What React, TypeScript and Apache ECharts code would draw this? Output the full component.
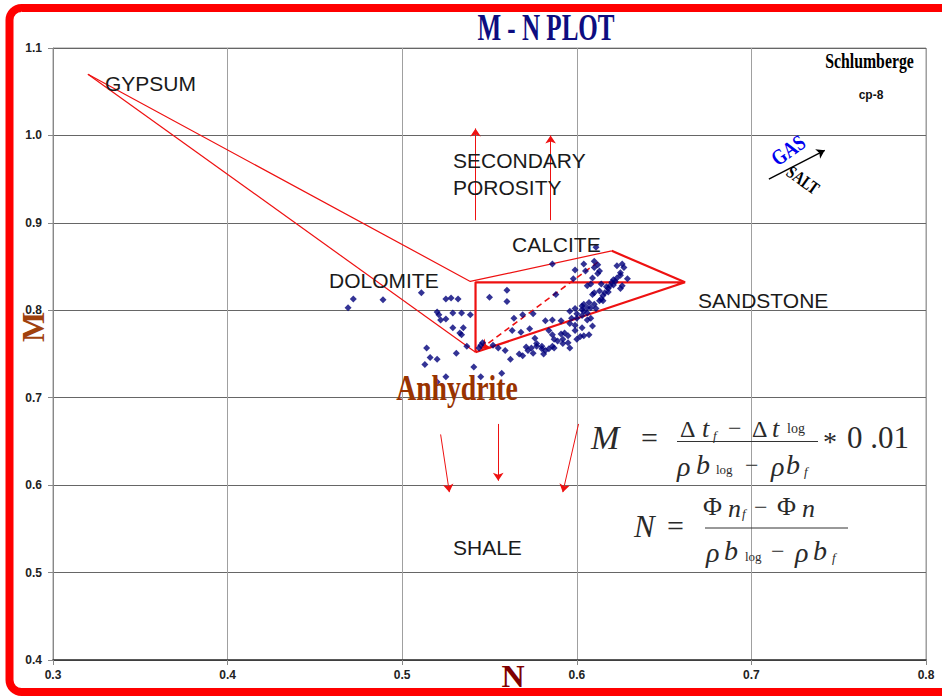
import { useEffect, useRef } from "react";
import * as echarts from "echarts";

// ---------- data ----------
const nAxisRange = [0.3, 0.8];
const mAxisRange = [0.4, 1.1];

const samplePoints: [number, number][] = [
  [0.469, 0.803], [0.472, 0.813], [0.489, 0.812], [0.511, 0.82], [0.52, 0.798],
  [0.521, 0.795], [0.522, 0.789], [0.525, 0.79], [0.525, 0.813], [0.528, 0.814],
  [0.532, 0.813], [0.529, 0.797], [0.534, 0.797], [0.539, 0.795], [0.529, 0.78],
  [0.533, 0.774], [0.534, 0.772], [0.535, 0.78], [0.537, 0.759], [0.531, 0.751],
  [0.514, 0.757], [0.516, 0.746], [0.52, 0.744], [0.513, 0.738], [0.541, 0.735],
  [0.525, 0.724], [0.52, 0.718], [0.545, 0.724], [0.557, 0.728], [0.55, 0.815],
  [0.56, 0.823], [0.56, 0.81], [0.544, 0.757], [0.545, 0.76], [0.546, 0.763],
  [0.552, 0.76], [0.555, 0.757], [0.559, 0.754], [0.562, 0.744], [0.567, 0.75],
  [0.569, 0.748], [0.571, 0.758], [0.572, 0.754], [0.574, 0.757], [0.575, 0.751],
  [0.577, 0.759], [0.563, 0.777], [0.568, 0.775], [0.573, 0.779], [0.564, 0.791],
  [0.569, 0.795], [0.575, 0.796], [0.576, 0.768], [0.577, 0.762], [0.58, 0.759],
  [0.58, 0.756], [0.582, 0.754], [0.584, 0.756], [0.586, 0.759], [0.587, 0.757],
  [0.581, 0.75], [0.584, 0.777], [0.586, 0.772], [0.587, 0.767], [0.589, 0.765],
  [0.591, 0.773], [0.592, 0.767], [0.593, 0.774], [0.595, 0.771], [0.582, 0.788],
  [0.586, 0.789], [0.591, 0.788], [0.596, 0.785], [0.599, 0.783], [0.606, 0.789],
  [0.608, 0.791], [0.609, 0.782], [0.603, 0.78], [0.599, 0.777], [0.596, 0.757],
  [0.6, 0.767], [0.602, 0.77], [0.604, 0.771], [0.607, 0.772], [0.592, 0.762],
  [0.595, 0.763], [0.586, 0.853], [0.588, 0.818], [0.596, 0.799], [0.599, 0.802],
  [0.6, 0.796], [0.597, 0.791], [0.6, 0.791], [0.603, 0.794], [0.604, 0.799],
  [0.606, 0.803], [0.607, 0.809], [0.604, 0.807], [0.603, 0.805], [0.608, 0.803],
  [0.61, 0.807], [0.613, 0.811], [0.611, 0.872], [0.604, 0.853], [0.61, 0.856],
  [0.612, 0.852], [0.61, 0.849], [0.599, 0.846], [0.598, 0.836], [0.609, 0.837],
  [0.612, 0.842], [0.614, 0.83], [0.606, 0.828], [0.608, 0.83], [0.623, 0.851],
  [0.626, 0.853], [0.627, 0.849], [0.625, 0.843], [0.625, 0.84], [0.623, 0.837],
  [0.621, 0.835], [0.62, 0.832], [0.619, 0.828], [0.618, 0.825], [0.616, 0.82],
  [0.615, 0.817], [0.614, 0.813], [0.625, 0.825], [0.626, 0.828], [0.629, 0.836],
  [0.617, 0.827], [0.613, 0.822], [0.611, 0.802], [0.609, 0.818], [0.61, 0.82],
  [0.605, 0.845], [0.613, 0.845], [0.603, 0.801], [0.606, 0.797], [0.622, 0.833],
  [0.621, 0.829], [0.618, 0.821], [0.615, 0.811],
];

// mineral points: gypsum, dolomite, anhydrite corner, calcite, sandstone
const gypsumUpperLine: [number, number][] = [[0.32, 1.07], [0.539, 0.833], [0.62, 0.868]];
const gypsumLowerLine: [number, number][] = [[0.32, 1.07], [0.542, 0.752]];
const sandstoneTriangle: [number, number][] = [[0.542, 0.752], [0.542, 0.832], [0.662, 0.832], [0.542, 0.752]];
const calciteSandstoneLine: [number, number][] = [[0.62, 0.868], [0.662, 0.832]];

const porosityArrows: [number, number][][] = [
  [[0.542, 0.903], [0.542, 1.008]],
  [[0.585, 0.903], [0.585, 1.0]],
];
const shaleArrows: [number, number][][] = [
  [[0.522, 0.658], [0.527, 0.592]],
  [[0.555, 0.67], [0.555, 0.605]],
  [[0.601, 0.67], [0.592, 0.592]],
];
const trendArrow: [number, number][][] = [[[0.612, 0.855], [0.545, 0.756]]];
const gasSaltArrow: [number, number][][] = [[[0.71, 0.95], [0.742, 0.983]]];

// ---------- styles ----------
const RED = "#ee1111";
const SERIF = '"Liberation Serif", "Times New Roman", serif';
const SANS = '"Liberation Sans", Arial, sans-serif';

function txt(
  x: number,
  y: number,
  text: string,
  font: string,
  fill: string,
  align: string = "left",
  extra: Record<string, unknown> = {}
) {
  return {
    type: "text",
    x,
    y,
    z: 100,
    silent: true,
    ...extra,
    style: {
      text,
      font,
      fill,
      align,
      verticalAlign: "middle",
      textAlign: align,
      textVerticalAlign: "middle",
    },
  };
}

function hline(x1: number, x2: number, y: number) {
  return {
    type: "line",
    z: 100,
    silent: true,
    shape: { x1, y1: y, x2, y2: y },
    style: { stroke: "#333", lineWidth: 1 },
  };
}

export default function App() {
  const ref = useRef<HTMLDivElement>(null);

  useEffect(() => {
    document.body.style.margin = "0";
    const chart = echarts.init(ref.current!, undefined, { renderer: "svg" });

    const arrowSeries = (data: [number, number][][], color: string, width: number, type: any = "solid", size = 8) => ({
      type: "lines",
      coordinateSystem: "cartesian2d",
      polyline: false,
      silent: true,
      z: 3,
      symbol: ["none", "arrow"],
      symbolSize: size,
      lineStyle: { color, width, type, opacity: 1, curveness: 0 },
      data: data.map((c) => ({ coords: c })),
    });

    const lineSeries = (data: [number, number][], width: number) => ({
      type: "line",
      data,
      symbol: "none",
      showSymbol: false,
      silent: true,
      z: 3,
      lineStyle: { color: RED, width },
    });

    const math = "#2a2a2a";
    const graphic: any[] = [
      {
        type: "rect",
        z: 0,
        silent: true,
        shape: { x: 9.5, y: 8, width: 990, height: 684, r: 12 },
        style: { fill: "none", stroke: "#ff0000", lineWidth: 8 },
      },
      txt(546, 27, "M - N PLOT", `bold 38px ${SERIF}`, "#0d0d80", "center", { scaleX: 0.66 }),
      txt(869.5, 61.5, "Schlumberge", `bold 20px ${SERIF}`, "#000", "center", { scaleX: 0.79 }),
      txt(871, 94.5, "cp-8", `bold 12px ${SANS}`, "#111", "center"),
      txt(788, 150, "GAS", `bold 22px ${SERIF}`, "#0000ee", "center", { rotation: 0.62, scaleX: 0.8 }),
      txt(803, 180, "SALT", `bold 18px ${SERIF}`, "#000", "center", { rotation: -0.62, scaleX: 0.78 }),
      txt(105, 83, "GYPSUM", `21px ${SANS}`, "#1a1a1a"),
      txt(453, 160, "SECONDARY", `21px ${SANS}`, "#1a1a1a"),
      txt(453, 187, "POROSITY", `21px ${SANS}`, "#1a1a1a"),
      txt(512, 244, "CALCITE", `21px ${SANS}`, "#1a1a1a"),
      txt(329, 280, "DOLOMITE", `21px ${SANS}`, "#1a1a1a"),
      txt(698, 300, "SANDSTONE", `21px ${SANS}`, "#1a1a1a"),
      txt(453, 547, "SHALE", `21px ${SANS}`, "#1a1a1a"),
      txt(457, 388, "Anhydrite", `bold 36px ${SERIF}`, "#993300", "center", { scaleX: 0.77 }),
      txt(33, 327, "M", `bold 32px ${SERIF}`, "#a0410d", "center", { rotation: Math.PI / 2 }),
      txt(513, 676, "N", `bold 32px ${SERIF}`, "#7f0000", "center"),

      // formula M
      txt(591, 437, "M", `italic 34px ${SERIF}`, math),
      txt(641, 437, "=", `30px ${SERIF}`, math),
      txt(680, 429, "Δ", `24px ${SERIF}`, math),
      txt(702, 428, "t", `italic 26px ${SERIF}`, math),
      txt(713, 435, "f", `italic 13px ${SERIF}`, math),
      txt(728, 428, "−", `24px ${SERIF}`, math),
      txt(752, 429, "Δ", `24px ${SERIF}`, math),
      txt(772, 428, "t", `italic 26px ${SERIF}`, math),
      txt(787, 428, "log", `14px ${SERIF}`, math),
      hline(677, 818, 441.5),
      txt(677, 466, "ρ", `italic 28px ${SERIF}`, math),
      txt(696, 464, "b", `italic 28px ${SERIF}`, math),
      txt(716, 469, "log", `13px ${SERIF}`, math),
      txt(745, 465, "−", `24px ${SERIF}`, math),
      txt(771, 466, "ρ", `italic 28px ${SERIF}`, math),
      txt(786, 464, "b", `italic 28px ${SERIF}`, math),
      txt(804, 471, "f", `italic 13px ${SERIF}`, math),
      txt(823, 441, "*", `28px ${SERIF}`, math),
      txt(847, 437, "0 .01", `31px ${SERIF}`, math),

      // formula N
      txt(634, 526, "N", `italic 31px ${SERIF}`, math),
      txt(667, 525, "=", `30px ${SERIF}`, math),
      txt(703, 506, "Φ", `26px ${SERIF}`, math),
      txt(728, 508, "n", `italic 26px ${SERIF}`, math),
      txt(742, 513, "f", `italic 13px ${SERIF}`, math),
      txt(754, 507, "−", `24px ${SERIF}`, math),
      txt(777, 506, "Φ", `26px ${SERIF}`, math),
      txt(802, 508, "n", `italic 26px ${SERIF}`, math),
      hline(705, 848, 528),
      txt(706, 552, "ρ", `italic 28px ${SERIF}`, math),
      txt(724, 550, "b", `italic 28px ${SERIF}`, math),
      txt(745, 556, "log", `13px ${SERIF}`, math),
      txt(771, 551, "−", `24px ${SERIF}`, math),
      txt(795, 552, "ρ", `italic 28px ${SERIF}`, math),
      txt(813, 550, "b", `italic 28px ${SERIF}`, math),
      txt(832, 557, "f", `italic 13px ${SERIF}`, math),
    ];

    const axisLabel = {
      fontFamily: SANS,
      fontWeight: "bold",
      fontSize: 12,
      color: "#222",
      formatter: (v: number) => v.toFixed(1),
    };

    chart.setOption({
      animation: false,
      backgroundColor: "#ffffff",
      grid: {
        left: 53,
        right: 16,
        top: 48,
        bottom: 37,
        containLabel: false,
        outerBoundsMode: "none",
        show: true,
        borderColor: "#999",
        borderWidth: 1,
      },
      xAxis: {
        type: "value",
        min: nAxisRange[0],
        max: nAxisRange[1],
        interval: 0.1,
        axisLine: { show: true, onZero: false, lineStyle: { color: "#333", width: 1.5 } },
        axisTick: { show: true, length: 5, lineStyle: { color: "#888" } },
        axisLabel: { ...axisLabel, margin: 9 },
        splitLine: { show: true, lineStyle: { color: "#a0a0a0", width: 1 } },
      },
      yAxis: {
        type: "value",
        min: mAxisRange[0],
        max: mAxisRange[1],
        interval: 0.1,
        axisLine: { show: true, onZero: false, lineStyle: { color: "#888", width: 1 } },
        axisTick: { show: true, length: 5, lineStyle: { color: "#888" } },
        axisLabel: { ...axisLabel, margin: 11 },
        splitLine: { show: true, lineStyle: { color: "#666", width: 1 } },
      },
      graphic,
      series: [
        lineSeries(gypsumUpperLine, 1.2),
        lineSeries(gypsumLowerLine, 1.2),
        lineSeries(sandstoneTriangle, 2.2),
        lineSeries(calciteSandstoneLine, 2.2),
        arrowSeries(porosityArrows, RED, 1, "solid", 8),
        arrowSeries(shaleArrows, RED, 1, "solid", 8),
        arrowSeries(trendArrow, RED, 1.6, [6, 4], 9),
        arrowSeries(gasSaltArrow, "#000", 1.4, "solid", 8),
        {
          type: "scatter",
          data: samplePoints,
          symbol: "diamond",
          symbolSize: 7,
          silent: true,
          z: 5,
          itemStyle: { color: "#00007a" },
        },
      ],
    });

    return () => chart.dispose();
  }, []);

  return <div ref={ref} style={{ width: 942, height: 697 }} />;
}
